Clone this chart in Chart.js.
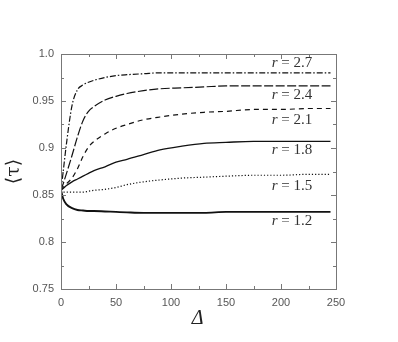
<!DOCTYPE html>
<html>
<head>
<meta charset="utf-8">
<script src="https://cdn.jsdelivr.net/npm/chart.js@4"></script>
<style>
  html, body { margin: 0; padding: 0; background: #fff; }
  #chart { display: block; }
</style>
</head>
<body>
<canvas id="chart" width="398" height="342"></canvas>
<script>
// sampled Delta values (x axis)
const deltas = [0, 2, 5, 10, 15, 20, 25, 30, 40, 50, 60, 75, 90, 110, 130, 150, 175, 200, 225, 245];

// <tau> for each r
const tau27 = [0.855, 0.875, 0.905, 0.945, 0.962, 0.967, 0.970, 0.972, 0.975, 0.977, 0.978, 0.979, 0.980, 0.980, 0.980, 0.980, 0.980, 0.980, 0.980, 0.980];
const tau24 = [0.855, 0.862, 0.873, 0.892, 0.912, 0.929, 0.939, 0.944, 0.951, 0.955, 0.958, 0.961, 0.963, 0.964, 0.965, 0.966, 0.966, 0.966, 0.966, 0.966];
const tau21 = [0.855, 0.858, 0.862, 0.868, 0.878, 0.891, 0.901, 0.907, 0.915, 0.921, 0.925, 0.930, 0.933, 0.936, 0.938, 0.939, 0.941, 0.941, 0.942, 0.942];
const tau18 = [0.855, 0.857, 0.860, 0.864, 0.867, 0.870, 0.873, 0.876, 0.880, 0.885, 0.888, 0.893, 0.898, 0.902, 0.905, 0.906, 0.907, 0.907, 0.907, 0.907];
const tau15 = [0.855, 0.853, 0.853, 0.853, 0.853, 0.853, 0.854, 0.855, 0.856, 0.858, 0.861, 0.864, 0.866, 0.868, 0.869, 0.870, 0.871, 0.871, 0.872, 0.872];
const tau12 = [0.855, 0.846, 0.840, 0.836, 0.834, 0.8335, 0.833, 0.833, 0.8325, 0.832, 0.8315, 0.831, 0.831, 0.831, 0.831, 0.832, 0.832, 0.832, 0.832, 0.832];

const rValues = ['2.7', '2.4', '2.1', '1.8', '1.5', '1.2'];
// where the "r = ..." text sits, in data units
const labelDelta = 210;
const labelTau = [0.9904, 0.9564, 0.930, 0.898, 0.8596, 0.8223];

const xTicks = [0, 50, 100, 150, 200, 250];
const yTicks = [0.75, 0.8, 0.85, 0.9, 0.95, 1.0];

function pts(ys) {
  return deltas.map((d, i) => ({ x: d, y: ys[i] }));
}

function line(ys, dash, width) {
  return {
    data: pts(ys),
    borderColor: '#111',
    borderWidth: width || 1.2,
    borderDash: dash,
    pointRadius: 0,
    fill: false,
    cubicInterpolationMode: 'monotone'
  };
}

// frame, inward tick marks, curve labels and axis titles
const decor = {
  id: 'decor',
  afterDraw(chart) {
    const ctx = chart.ctx;
    const a = chart.chartArea;
    const xs = chart.scales.x, ys = chart.scales.y;
    ctx.save();
    ctx.strokeStyle = '#777';
    ctx.lineWidth = 1;
    ctx.strokeRect(a.left + 0.5, a.top + 0.5, a.right - a.left, a.bottom - a.top);

    ctx.beginPath();
    for (let v = 0; v <= 250; v += 25) {
      const px = Math.round(xs.getPixelForValue(v)) + 0.5;
      const len = v % 50 === 0 ? 5 : 3;
      ctx.moveTo(px, a.bottom); ctx.lineTo(px, a.bottom - len);
      ctx.moveTo(px, a.top); ctx.lineTo(px, a.top + len);
    }
    for (let k = 0; k <= 10; k++) {
      const v = 0.75 + k * 0.025;
      const py = Math.round(ys.getPixelForValue(v)) + 0.5;
      const len = k % 2 === 0 ? 5 : 3;
      ctx.moveTo(a.left, py); ctx.lineTo(a.left + len, py);
      ctx.moveTo(a.right, py); ctx.lineTo(a.right - len, py);
    }
    ctx.stroke();

    // r = ... labels
    ctx.fillStyle = '#333';
    ctx.textBaseline = 'middle';
    rValues.forEach((r, i) => {
      const cx = xs.getPixelForValue(labelDelta);
      const cy = ys.getPixelForValue(labelTau[i]);
      ctx.font = 'italic 15px "Liberation Serif"';
      const w1 = ctx.measureText('r').width;
      ctx.font = '15px "Liberation Serif"';
      const rest = ' = ' + r;
      const w2 = ctx.measureText(rest).width;
      const x0 = cx - (w1 + w2) / 2;
      ctx.font = 'italic 15px "Liberation Serif"';
      ctx.fillText('r', x0, cy);
      ctx.font = '15px "Liberation Serif"';
      ctx.fillText(rest, x0 + w1, cy);
    });

    // axis titles
    ctx.fillStyle = '#222';
    ctx.textAlign = 'center';
    ctx.font = 'italic 20px "Liberation Serif"';
    ctx.fillText('\u0394', (a.left + a.right) / 2 - 1, 319);
    ctx.translate(14, (a.top + a.bottom) / 2);
    ctx.rotate(-Math.PI / 2);
    ctx.font = '19px "DejaVu Serif"';
    ctx.fillText('\u27E8\u03C4\u27E9', 0, 0);
    ctx.restore();
  }
};

new Chart(document.getElementById('chart'), {
  type: 'line',
  data: {
    datasets: [
      line(tau27, [6, 2, 1.5, 2]),
      line(tau24, [9, 2.5]),
      line(tau21, [5, 4]),
      line(tau18, [], 1.3),
      line(tau15, [1.2, 2]),
      line(tau12, [], 1.9)
    ]
  },
  options: {
    responsive: false,
    animation: false,
    devicePixelRatio: 1,
    layout: { padding: { top: 54, right: 62, left: 0, bottom: 0 } },
    plugins: { legend: { display: false }, tooltip: { enabled: false } },
    scales: {
      x: {
        type: 'linear',
        min: 0, max: 250,
        afterBuildTicks: s => { s.ticks = xTicks.map(v => ({ value: v })); },
        afterFit: s => { s.height = 53; },
        grid: { display: false, drawTicks: false, tickLength: 0 },
        border: { display: false },
        ticks: {
          padding: 7,
          maxRotation: 0,
          color: '#555',
          font: { family: '"Liberation Sans"', size: 11 },
          callback: v => String(v)
        }
      },
      y: {
        type: 'linear',
        min: 0.75, max: 1.0,
        afterBuildTicks: s => { s.ticks = yTicks.map(v => ({ value: v })); },
        afterFit: s => { s.width = 61; },
        grid: { display: false, drawTicks: false, tickLength: 0 },
        border: { display: false },
        ticks: {
          padding: 7,
          color: '#555',
          font: { family: '"Liberation Sans"', size: 11 },
          callback: v => (v === 1 ? '1.0' : String(+v.toFixed(2)))
        }
      }
    }
  },
  plugins: [decor]
});
</script>
</body>
</html>
